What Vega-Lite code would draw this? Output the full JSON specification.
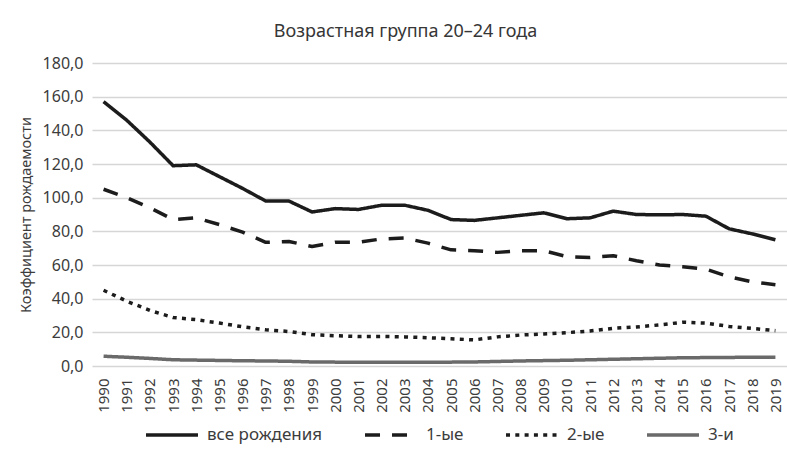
{
  "$schema": "https://vega.github.io/schema/vega-lite/v6.json",
  "width": 695,
  "height": 303,
  "autosize": {"type": "none"},
  "padding": {"left": 92, "top": 63, "right": 0, "bottom": 96},
  "background": "white",
  "title": {
    "text": "Возрастная группа 20–24 года",
    "anchor": "middle",
    "dx": -34,
    "offset": 14,
    "fontSize": 18,
    "fontWeight": "normal",
    "font": "Noto Sans",
    "color": "#363636"
  },
  "data": {
    "values": [
      {"year": "1990", "все рождения": 157, "1-ые": 105, "2-ые": 45, "3-и": 5.8},
      {"year": "1991", "все рождения": 146, "1-ые": 100, "2-ые": 38.5, "3-и": 5.2},
      {"year": "1992", "все рождения": 133, "1-ые": 94, "2-ые": 33, "3-и": 4.5},
      {"year": "1993", "все рождения": 119, "1-ые": 87, "2-ые": 28.8, "3-и": 3.7},
      {"year": "1994", "все рождения": 119.5, "1-ые": 88, "2-ые": 27.5, "3-и": 3.5},
      {"year": "1995", "все рождения": 112.5, "1-ые": 84, "2-ые": 25.5, "3-и": 3.3},
      {"year": "1996", "все рождения": 105.5, "1-ые": 79.5, "2-ые": 23.3, "3-и": 3.1},
      {"year": "1997", "все рождения": 98, "1-ые": 73.5, "2-ые": 21.5, "3-и": 3.0},
      {"year": "1998", "все рождения": 98, "1-ые": 74, "2-ые": 20.5, "3-и": 2.8},
      {"year": "1999", "все рождения": 91.5, "1-ые": 71, "2-ые": 18.6, "3-и": 2.4},
      {"year": "2000", "все рождения": 93.5, "1-ые": 73.5, "2-ые": 18, "3-и": 2.3},
      {"year": "2001", "все рождения": 93, "1-ые": 73.5, "2-ые": 17.5, "3-и": 2.2},
      {"year": "2002", "все рождения": 95.5, "1-ые": 75.5, "2-ые": 17.6, "3-и": 2.3},
      {"year": "2003", "все рождения": 95.5, "1-ые": 76, "2-ые": 17.3, "3-и": 2.3},
      {"year": "2004", "все рождения": 92.5, "1-ые": 73, "2-ые": 16.8, "3-и": 2.3},
      {"year": "2005", "все рождения": 87, "1-ые": 69, "2-ые": 16.2, "3-и": 2.3},
      {"year": "2006", "все рождения": 86.5, "1-ые": 68.5, "2-ые": 15.5, "3-и": 2.4},
      {"year": "2007", "все рождения": 88, "1-ые": 67.5, "2-ые": 17.3, "3-и": 2.7},
      {"year": "2008", "все рождения": 89.5, "1-ые": 68.5, "2-ые": 18.4, "3-и": 3.0},
      {"year": "2009", "все рождения": 91, "1-ые": 68.5, "2-ые": 19, "3-и": 3.2},
      {"year": "2010", "все рождения": 87.5, "1-ые": 65, "2-ые": 19.8, "3-и": 3.4},
      {"year": "2011", "все рождения": 88, "1-ые": 64.5, "2-ые": 20.8, "3-и": 3.7},
      {"year": "2012", "все рождения": 92, "1-ые": 65.5, "2-ые": 22.4, "3-и": 4.0},
      {"year": "2013", "все рождения": 90, "1-ые": 62.5, "2-ые": 23.2, "3-и": 4.3},
      {"year": "2014", "все рождения": 89.8, "1-ые": 60, "2-ые": 24.4, "3-и": 4.6},
      {"year": "2015", "все рождения": 90, "1-ые": 59, "2-ые": 26, "3-и": 4.9},
      {"year": "2016", "все рождения": 89, "1-ые": 57.5, "2-ые": 25.5, "3-и": 5.0},
      {"year": "2017", "все рождения": 81.5, "1-ые": 53, "2-ые": 23.5, "3-и": 5.1},
      {"year": "2018", "все рождения": 78.5, "1-ые": 50, "2-ые": 22.3, "3-и": 5.2},
      {"year": "2019", "все рождения": 75, "1-ые": 48.3, "2-ые": 21, "3-и": 5.2}
    ]
  },
  "transform": [
    {"fold": ["все рождения", "1-ые", "2-ые", "3-и"], "as": ["series", "value"]}
  ],
  "mark": {"type": "line", "strokeCap": "butt", "strokeJoin": "round"},
  "encoding": {
    "x": {
      "field": "year",
      "type": "ordinal",
      "sort": null,
      "scale": {"type": "point", "padding": 0.5},
      "axis": {
        "title": null,
        "labelAngle": -90,
        "labelAlign": "right",
        "labelBaseline": "middle",
        "ticks": false,
        "domain": false,
        "grid": false,
        "labelPadding": 12,
        "labelFontSize": 15
      }
    },
    "y": {
      "field": "value",
      "type": "quantitative",
      "scale": {"domain": [0, 180], "nice": false},
      "axis": {
        "values": [0, 20, 40, 60, 80, 100, 120, 140, 160, 180],
        "labelExpr": "replace(format(datum.value, '.1f'), '.', ',')",
        "title": "Коэффициент рождаемости",
        "titleFontSize": 14.5,
        "titleFontWeight": "normal",
        "titlePadding": 9,
        "ticks": false,
        "domain": false,
        "grid": true,
        "labelPadding": 9,
        "labelFontSize": 16
      }
    },
    "color": {
      "field": "series",
      "type": "nominal",
      "scale": {
        "domain": ["все рождения", "1-ые", "2-ые", "3-и"],
        "range": ["#1c1c1c", "#1c1c1c", "#1c1c1c", "#6a6a6a"]
      }
    },
    "strokeDash": {
      "field": "series",
      "type": "nominal",
      "scale": {
        "domain": ["все рождения", "1-ые", "2-ые", "3-и"],
        "range": [[1, 0], [15, 12], [4, 5.3], [1, 0]]
      }
    },
    "strokeWidth": {
      "field": "series",
      "type": "nominal",
      "scale": {
        "domain": ["все рождения", "1-ые", "2-ые", "3-и"],
        "range": [3.5, 3.5, 3.5, 2]
      }
    }
  },
  "config": {
    "font": "Noto Sans",
    "view": {"stroke": null},
    "axis": {
      "labelColor": "#3c3c3c",
      "titleColor": "#3c3c3c",
      "labelFont": "Noto Sans",
      "titleFont": "Noto Sans",
      "gridColor": "#d6d6d6",
      "gridWidth": 1.3
    },
    "legend": {
      "orient": "none",
      "legendX": 52,
      "legendY": 344,
      "direction": "horizontal",
      "title": null,
      "symbolType": "stroke",
      "symbolSize": 2700,
      "labelFontSize": 17,
      "labelColor": "#3c3c3c",
      "labelFont": "Noto Sans",
      "labelOffset": 7,
      "columnPadding": 35
    }
  }
}
